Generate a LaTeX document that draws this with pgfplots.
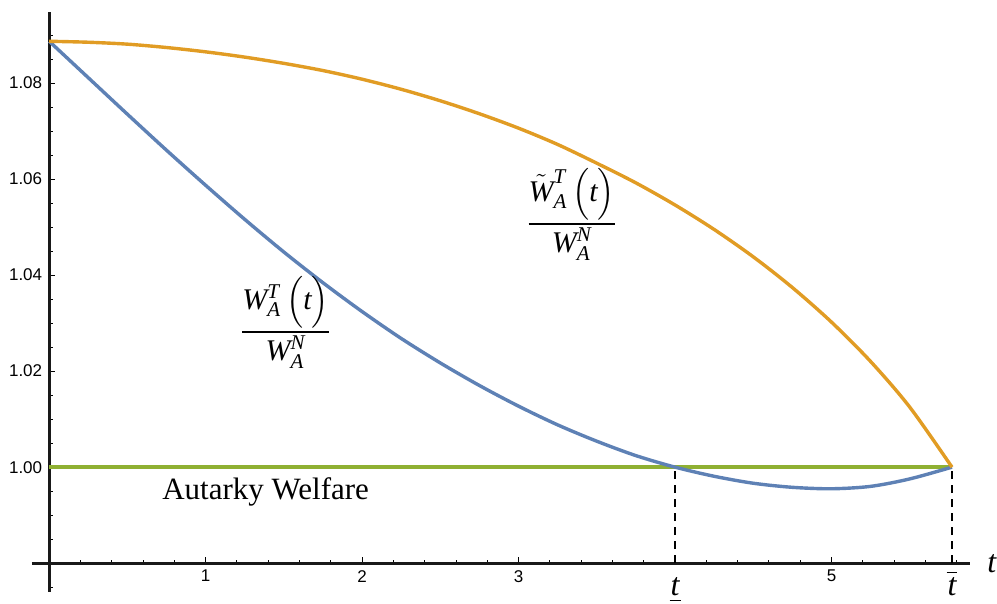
\documentclass[border=0pt]{standalone}
\usepackage{amsmath}
\usepackage{fontspec}
\setmainfont{Liberation Serif}
\setsansfont{Liberation Sans}
\usepackage{pgfplots}
\pgfplotsset{compat=1.18}
\definecolor{mblue}{RGB}{94,129,181}
\definecolor{morange}{RGB}{225,156,36}
\definecolor{mgreen}{RGB}{143,176,50}
\newcommand{\tlow}{{\fontsize{16}{18}\selectfont$\underline{\hbox{\rmfamily\itshape\kern0.5pt t\kern0.5pt}}\vphantom{\overline{\hbox{\rmfamily\itshape t}}}$}}
\newcommand{\thigh}{{\fontsize{16}{18}\selectfont$\overline{\hbox{\rmfamily\itshape\kern0.5pt t\kern0.5pt}}$}}
\begin{document}
\begin{tikzpicture}
\begin{axis}[
  width=469pt, height=290pt, scale only axis,
  xmin=-0.11, xmax=5.885, ymin=0.974, ymax=1.0948,
  axis x line=bottom, axis y line=left,
  axis x line shift=-14.4pt, axis y line shift=-8.61pt,
  axis line style={-, line width=1.6pt, color=black!90},
  tick align=inside,
  xtick={1,2,3,4,5,5.77},
  xticklabels={1,2,3,\tlow,5,\thigh},
  minor xtick={0.2,0.4,...,5.81},
  ytick={1.00,1.02,1.04,1.06,1.08},
  yticklabels={1.00,1.02,1.04,1.06,1.08},
  minor ytick={0.975,0.98,...,1.0925},
  major tick length=3pt, minor tick length=1.8pt,
  every tick/.style={black, line width=0.5pt},
  tick label style={font=\fontsize{8.5}{10}\sffamily},
  /pgf/number format/assume math mode=true,
  clip=false,
]
\addplot[mgreen, line width=1.7pt, no markers] coordinates {(0,1) (5.77,1)};
\addplot[black, line width=0.6pt, dash pattern=on 4pt off 3pt, no markers] coordinates {(4,0.98) (4,1)};
\addplot[black, line width=0.6pt, dash pattern=on 4pt off 3pt, no markers] coordinates {(5.77,0.98) (5.77,1)};
\addplot[mblue, line width=1.7pt, smooth, no markers] coordinates {
(0,1.0887) (0.25,1.0811) (0.5,1.0735) (0.75,1.0660) (1.0,1.0587) (1.25,1.0516)
(1.5,1.0448) (1.75,1.0384) (2.0,1.0324) (2.25,1.0268) (2.5,1.0217) (2.75,1.0170)
(3.0,1.0127) (3.25,1.0088) (3.5,1.0054) (3.75,1.0024) (4.0,1.0000) (4.25,0.9981)
(4.5,0.99665) (4.75,0.9958) (5.0,0.9955) (5.25,0.9960) (5.5,0.99755) (5.77,1.0000)};
\addplot[morange, line width=1.7pt, smooth, no markers] coordinates {
(0,1.0887) (0.25,1.0885) (0.5,1.0881) (0.75,1.0874) (1.0,1.0865) (1.25,1.0854)
(1.5,1.0841) (1.75,1.0826) (2.0,1.0808) (2.25,1.0787) (2.5,1.0763) (2.75,1.0736)
(3.0,1.0706) (3.25,1.0672) (3.5,1.0633) (3.75,1.0592) (4.0,1.0546) (4.25,1.0495)
(4.5,1.0438) (4.75,1.0374) (5.0,1.0302) (5.25,1.0220) (5.5,1.0125) (5.77,1.0000)};
\node[font=\fontsize{15}{18}\selectfont] at (axis cs:3.34,1.0527)
  {$\dfrac{\tilde{\textit{W}}^{\textit{T}}_{\textit{A}}\,\Bigl(\textit{t}\Bigr)}{\textit{W}^{\textit{N}}_{\textit{A}}}$};
\node[font=\fontsize{15}{18}\selectfont] at (axis cs:1.511,1.0302)
  {$\dfrac{\textit{W}^{\textit{T}}_{\textit{A}}\,\Bigl(\textit{t}\Bigr)}{\textit{W}^{\textit{N}}_{\textit{A}}}$};
\node[anchor=base, font=\fontsize{15.5}{18}\selectfont] at (axis cs:1.383,0.99333) {Autarky Welfare};
\node[anchor=west, inner sep=0pt, xshift=8.5pt, font=\fontsize{16}{18}\selectfont\itshape] at (axis cs:5.885,0.98) {t};
\end{axis}
\pgfresetboundingbox
\path (current axis.south west) ++(-16pt,-6pt) rectangle ([shift={(13.5pt,6pt)}]current axis.north east);
\end{tikzpicture}
\end{document}
